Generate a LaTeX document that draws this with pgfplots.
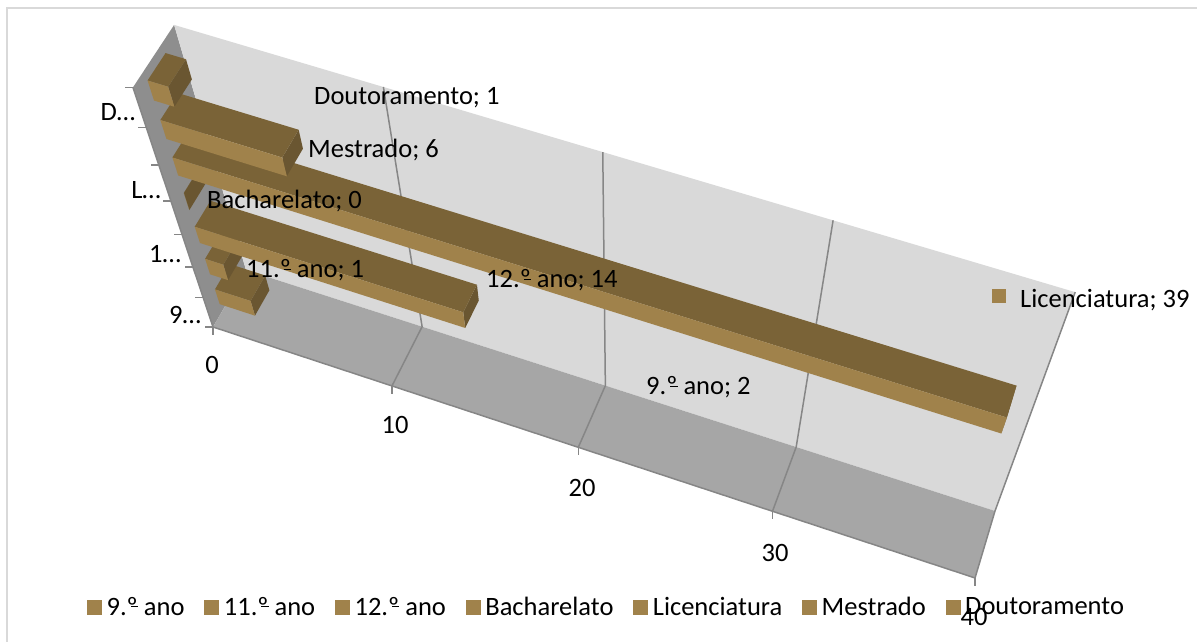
\documentclass[border=0pt]{standalone}
\usepackage{pgfplots}
\pgfplotsset{compat=1.18}
\usepackage{pgfplotstable}
\usepackage{fontspec}
\setmainfont{Carlito}

\definecolor{barfront}{HTML}{A0824B}
\definecolor{bartop}{HTML}{7A6337}
\definecolor{barend}{HTML}{6A5631}
\definecolor{wallback}{HTML}{D9D9D9}
\definecolor{wallfloor}{HTML}{A6A6A6}
\definecolor{wallside}{HTML}{8E8E8E}
\definecolor{gridgrey}{HTML}{868686}
\definecolor{framegrey}{HTML}{D9D9D9}

% Ordinal indicator with its underline
\newcommand\ordm{º\llap{\rule[0.3em]{0.27em}{0.05em}}}

% Perspective projection of the chart box: #1 along the values (0..1),
% #2 in depth (0..1), #3 along the categories (0..1); result in page pixels.
\newcommand\PW[3]{(1-0.0792*(#1)+0.0195*(#2)-0.165*(#3))}
\newcommand\PX[3]{((213+684.8*(#1)+37.8*(#2)-102*(#3))/\PW{#1}{#2}{#3})}
\newcommand\PY[3]{(-(327+205.2*(#1)-51.7*(#2)-254*(#3))/\PW{#1}{#2}{#3})}

% Unit faces of a bar
\pgfplotstableread{
u v h
0 0 0
1 0 0
1 0 1
0 0 1
}\frontface
\pgfplotstableread{
u v h
0 0 1
1 0 1
1 1 1
0 1 1
}\topface
\pgfplotstableread{
u v h
1 0 0
1 1 0
1 1 1
1 0 1
}\endface

% Walls of the box
\pgfplotstableread{
u v h
0 1 0
1 1 0
1 1 1
0 1 1
}\backwall
\pgfplotstableread{
u v h
0 0 0
1 0 0
1 1 0
0 1 0
}\floorwall
\pgfplotstableread{
u v h
0 0 0
0 1 0
0 1 1
0 0 1
}\sidewall
% Front edges of the floor and the side wall
\pgfplotstableread{
u v h
1 0 0
0 0 0
0 0 1
}\frontedges
\pgfplotstableread{
v h
0 0
1 0
1 1
}\gridpath
\pgfplotstableread{
d e
0 0
8 0
}\tickpath

% One bar: #1 category index, #2 value
\newcommand\faceplot[4]{%
  \addplot[fill=#3,draw=none] table[
    x expr={\PX{\thisrow{u}*#2/40}{0.27+0.44*\thisrow{v}}{(#1+0.25+0.5*\thisrow{h})/7}},
    y expr={\PY{\thisrow{u}*#2/40}{0.27+0.44*\thisrow{v}}{(#1+0.25+0.5*\thisrow{h})/7}}
  ] {#4} -- cycle;
}
\newcommand\oneBar[2]{%
  \faceplot{#1}{#2}{barend}{\endface}
  \faceplot{#1}{#2}{bartop}{\topface}
  \faceplot{#1}{#2}{barfront}{\frontface}
}
\newcommand\wall[2]{%
  \addplot[fill=#2,draw=none] table[
    x expr={\PX{\thisrow{u}}{\thisrow{v}}{\thisrow{h}}},
    y expr={\PY{\thisrow{u}}{\thisrow{v}}{\thisrow{h}}}
  ] {#1} -- cycle;
}
% Grid line at value #1: across the floor and up the back wall
\newcommand\gridline[1]{%
  \addplot[gridgrey,line width=1.5pt] table[
    x expr={\PX{#1/40}{\thisrow{v}}{\thisrow{h}}},
    y expr={\PY{#1/40}{\thisrow{v}}{\thisrow{h}}}
  ] {\gridpath};
}
% Tick under the floor's front edge at value #1
\newcommand\valuetick[1]{%
  \addplot[gridgrey,line width=1.5pt] table[
    x expr={\PX{#1/40}{0}{0}},
    y expr={\PY{#1/40}{0}{0}-\thisrow{d}}
  ] {\tickpath};
}
% Tick left of the side wall's front edge at category boundary #1
\newcommand\cattick[1]{%
  \addplot[gridgrey,line width=1.5pt] table[
    x expr={\PX{0}{0}{#1/7}-\thisrow{d}},
    y expr={\PY{0}{0}{#1/7}}
  ] {\tickpath};
}

\begin{document}
\begin{tikzpicture}[x=1pt,y=1pt]
\useasboundingbox (0,0) rectangle (1197,642);
\begin{axis}[
  at={(0,0)}, anchor=south west,
  scale only axis, width=1197pt, height=642pt,
  xmin=0, xmax=1197, ymin=-642, ymax=0,
  axis lines=none, clip=false,
  legend columns=7,
  legend cell align=left,
  legend style={
    at={(axis cs:87,-607)}, anchor=west, draw=none, fill=none,
    font=\fontsize{26.5}{30}\selectfont,
    inner xsep=0pt, inner ysep=0pt,
    nodes={inner sep=0pt},
    /tikz/every odd column/.append style={column sep=5pt},
    /tikz/every even column/.append style={column sep=20pt},
  },
  legend image code/.code={\fill[barfront] (0pt,-7pt) rectangle (14pt,7pt);},
  every axis plot/.append style={forget plot},
]
% Chart frame
\addplot[framegrey,line width=1.5pt] coordinates {(7,-642) (7,-8) (1197,-8)};

\wall{\sidewall}{wallside}
\wall{\backwall}{wallback}
\wall{\floorwall}{wallfloor}

\gridline{10}
\gridline{20}
\gridline{30}
\gridline{40}
\addplot[gridgrey,line width=1.5pt] table[
  x expr={\PX{\thisrow{u}}{\thisrow{v}}{\thisrow{h}}},
  y expr={\PY{\thisrow{u}}{\thisrow{v}}{\thisrow{h}}}
] {\frontedges};
\valuetick{0}
\valuetick{10}
\valuetick{20}
\valuetick{30}
\valuetick{40}
\cattick{0}
\cattick{1}
\cattick{2}
\cattick{3}
\cattick{4}
\cattick{5}
\cattick{6}
\cattick{7}

% Bars, nearest the floor first
\oneBar{0}{2}
\oneBar{1}{1}
\oneBar{2}{14}
\oneBar{3}{0}
\oneBar{4}{39}
\oneBar{5}{6}
\oneBar{6}{1}

\begin{scope}[font=\fontsize{26.5}{30}\selectfont,every node/.style={inner sep=0pt}]
% Value axis labels
\node at (axis cs:212,-365) {0};
\node at (axis cs:395,-425) {10};
\node at (axis cs:582,-488) {20};
\node at (axis cs:775,-553) {30};
\node at (axis cs:974,-617) {40};
% Category axis labels
\node at (axis cs:118,-112) {D…};
\node at (axis cs:146,-190) {L…};
\node at (axis cs:165,-254) {1…};
\node at (axis cs:185,-315) {9…};
% Data labels
\node[anchor=west] at (axis cs:314,-98) {Doutoramento; 1};
\node[anchor=west] at (axis cs:308,-150.5) {Mestrado; 6};
\node[anchor=west] at (axis cs:207,-201.5) {Bacharelato; 0};
\node[anchor=west] at (axis cs:246,-270.5) {11.\ordm{} ano; 1};
\node[anchor=west] at (axis cs:486,-280.5) {12.\ordm{} ano; 14};
\node[anchor=west] at (axis cs:646,-387.5) {9.\ordm{} ano; 2};
\node[anchor=west] at (axis cs:1020,-300) {Licenciatura; 39};
\end{scope}
\addplot[only marks,mark=square*,mark size=6.5pt,color=barfront] coordinates {(998.5,-296)};

\addlegendimage{barfront}\addlegendentry{9.\ordm{} ano}
\addlegendimage{barfront}\addlegendentry{11.\ordm{} ano}
\addlegendimage{barfront}\addlegendentry{12.\ordm{} ano}
\addlegendimage{barfront}\addlegendentry{Bacharelato}
\addlegendimage{barfront}\addlegendentry{Licenciatura}
\addlegendimage{barfront}\addlegendentry{Mestrado}
\addlegendimage{barfront}\addlegendentry{Doutoramento}
\end{axis}
\end{tikzpicture}
\end{document}
